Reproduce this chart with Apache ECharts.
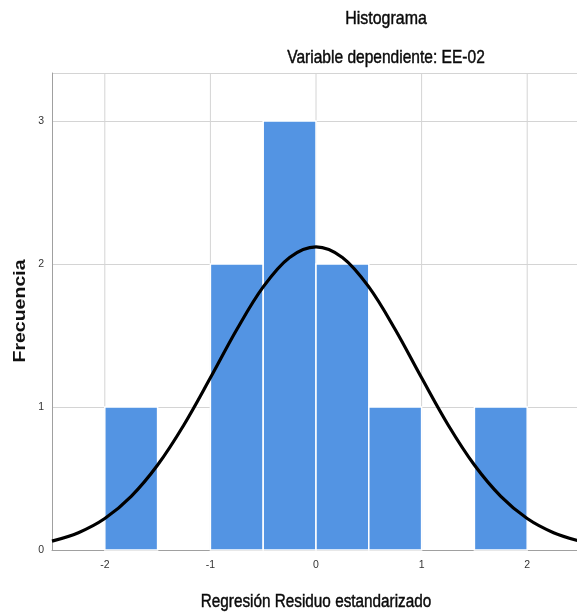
<!DOCTYPE html>
<html>
<head>
<meta charset="utf-8">
<script src="https://cdn.jsdelivr.net/npm/echarts@6/dist/echarts.min.js"></script>
<style>
  html, body { margin: 0; padding: 0; background: #fff; }
  #chart { width: 577px; height: 613px; }
</style>
</head>
<body>
<div id="chart"></div>
<script>
// Histogram bins (standardized residuals) and their counts
const binStart = [-2, -1, -0.5, 0, 0.5, 1.5];
const binEnd   = [-1.5, -0.5, 0, 0.5, 1, 2];
const counts   = [1, 2, 3, 2, 1, 1];

// Normal reference curve, sampled every 0.25
const curveX = [-2.5, -2.25, -2, -1.75, -1.5, -1.25, -1, -0.75, -0.5, -0.25, 0,
                0.25, 0.5, 0.75, 1, 1.25, 1.5, 1.75, 2, 2.25, 2.5];
const curveY = [0.062, 0.121, 0.220, 0.375, 0.594, 0.876, 1.204, 1.542, 1.840, 2.046, 2.12,
                2.046, 1.840, 1.542, 1.204, 0.876, 0.594, 0.375, 0.220, 0.121, 0.062];

// Axis ticks
const xTicks = [-2, -1, 0, 1, 2];
const yTicks = [0, 1, 2, 3];

// Texts
const titleText = 'Histograma';
const subtitleText = 'Variable dependiente: EE-02';
const xName = 'Regresión Residuo estandarizado';
const yName = 'Frecuencia';

const FONT = "'Liberation Sans', Arial, sans-serif";
const Y_MAX = 3.336;

const barData = binStart.map((s, i) => [s, binEnd[i], counts[i]]);
const lineData = curveX.map((x, i) => [x, curveY[i]]);

const chart = echarts.init(document.getElementById('chart'), null, { renderer: 'canvas' });

// condensed-looking headings: regular sans squeezed horizontally, lightly emboldened
function heading(text, x, y, size, extra) {
  return Object.assign({
    type: 'text', x: x, y: y, scaleX: 0.84, silent: true,
    style: { text: text, fontFamily: FONT, fontSize: size, fill: '#0a0a0a',
             stroke: '#0a0a0a', lineWidth: 0.45,
             align: 'center', verticalAlign: 'middle' }
  }, extra || {});
}

chart.setOption({
  animation: false,
  backgroundColor: '#ffffff',
  graphic: [
    heading(titleText, 386, 19, 19),
    heading(subtitleText, 386, 58, 18.5),
    heading(xName, 316, 602, 18, { scaleX: 0.85 }),
    {
      type: 'text', x: 21, y: 311, rotation: Math.PI / 2, scaleX: 1.22, silent: true,
      style: { text: yName, fontFamily: FONT, fontSize: 16, fontWeight: 'bold', fill: '#111',
               align: 'center', verticalAlign: 'middle' }
    }
  ],
  grid: { left: 52, top: 73, width: 528, height: 477, outerBoundsMode: 'none', containLabel: false },
  xAxis: {
    type: 'value', min: -2.5, max: 2.5, interval: 0.5,
    axisLine: { show: true, onZero: false, lineStyle: { color: '#a0a0a0', width: 1 } },
    axisTick: { show: false },
    axisLabel: {
      fontFamily: FONT, fontSize: 10.5, color: '#333', margin: 10,
      formatter: v => (xTicks.includes(v) ? String(v) : '')
    },
    splitLine: { show: false }
  },
  yAxis: {
    type: 'value', min: 0, max: Y_MAX, interval: 1,
    axisLine: { show: true, onZero: false, lineStyle: { color: '#a0a0a0', width: 1 } },
    axisTick: { show: false },
    axisLabel: {
      fontFamily: FONT, fontSize: 10.5, color: '#333', margin: 8,
      formatter: v => (yTicks.includes(v) ? String(v) : '')
    },
    splitLine: { show: true, lineStyle: { color: '#d4d4d4', width: 1 } }
  },
  series: [
    {
      // vertical grid lines at the integer ticks
      type: 'custom',
      silent: true,
      z: 1,
      data: xTicks.map(v => [v]),
      renderItem: (params, api) => {
        const top = api.coord([api.value(0), Y_MAX]);
        const bot = api.coord([api.value(0), 0]);
        return {
          type: 'line',
          shape: { x1: top[0], y1: top[1], x2: bot[0], y2: bot[1] },
          style: { stroke: '#d4d4d4', lineWidth: 1 }
        };
      }
    },
    {
      type: 'custom',
      z: 2,
      data: barData,
      encode: { x: [0, 1], y: 2 },
      renderItem: (params, api) => {
        const p0 = api.coord([api.value(0), api.value(2)]);
        const p1 = api.coord([api.value(1), 0]);
        return {
          type: 'rect',
          shape: { x: p0[0], y: p0[1], width: p1[0] - p0[0], height: p1[1] - p0[1] },
          style: { fill: '#5394e3', stroke: '#ffffff', lineWidth: 1.5 }
        };
      }
    },
    {
      type: 'line',
      z: 3,
      data: lineData,
      smooth: 0.35,
      symbol: 'none',
      lineStyle: { color: '#000000', width: 3.2 },
      clip: true
    }
  ]
});
</script>
</body>
</html>
